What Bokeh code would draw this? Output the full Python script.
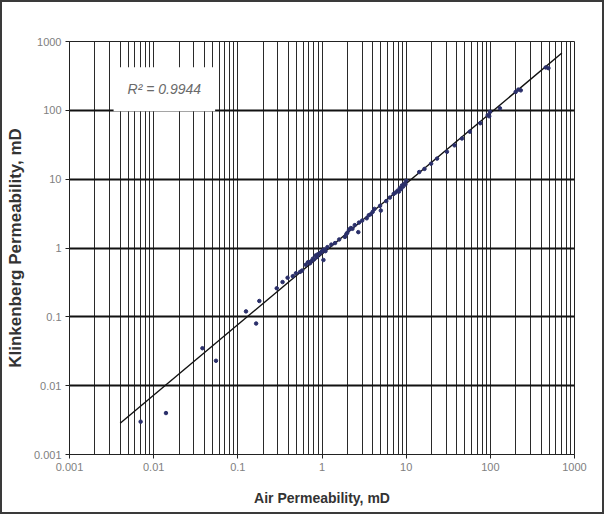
from bokeh.plotting import figure
from bokeh.models import FixedTicker, Label, Range1d
from bokeh.embed import file_html
from bokeh.resources import INLINE

# ---- data ----
air_perm = [0.007, 0.014, 0.038, 0.055, 0.125, 0.165, 0.18, 0.29, 0.34, 0.39,
            0.45, 0.49, 0.55, 0.58, 0.64, 0.68, 0.72, 0.74, 0.78, 0.8,
            0.84, 0.87, 0.89, 0.94, 0.97, 0.99, 1.02, 1.04, 1.06, 1.1,
            1.16, 1.29, 1.43, 1.6, 1.87, 1.95, 2.0, 2.1, 2.2, 2.3,
            2.45, 2.7, 2.75, 3.0, 3.4, 3.6, 3.8, 4.0, 4.2, 4.9,
            5.0, 5.8, 6.4, 7.1, 7.5, 7.9, 8.2, 8.4, 8.7, 8.9,
            9.2, 9.5, 9.8, 10, 14.3, 16.5, 19.8, 23.3, 30.5, 37.5,
            46, 57, 76, 93, 97, 99, 130, 200, 215, 230, 455, 490]
klink_perm = [0.003, 0.004, 0.035, 0.023, 0.12, 0.08, 0.17, 0.26, 0.32, 0.37,
              0.39, 0.43, 0.45, 0.47, 0.57, 0.62, 0.6, 0.64, 0.7, 0.68,
              0.78, 0.74, 0.81, 0.83, 0.86, 0.88, 0.92, 0.67, 0.95, 0.9,
              1.03, 1.12, 1.18, 1.33, 1.45, 1.6, 1.67, 1.86, 1.95, 1.9,
              2.15, 1.7, 2.34, 2.5, 2.7, 3.0, 3.1, 3.35, 3.7, 4.1,
              3.5, 4.8, 5.4, 6.1, 6.4, 6.8, 6.6, 7.4, 7.2, 8.1,
              7.8, 8.6, 8.4, 9.5, 12.7, 14.1, 16.8, 19.9, 25, 31,
              39, 49, 65, 85, 82, 95, 107, 185, 200, 195, 420, 410]

trend_x = [0.004, 708]
trend_y = [0.00285, 679]

decade_ticks = [0.001, 0.01, 0.1, 1, 10, 100, 1000]
tick_labels = ["0.001", "0.01", "0.1", "1", "10", "100", "1000"]
minor_mult = [2, 3, 4, 5, 6, 7, 8, 9]
r2_text = "R\u00b2 = 0.9944"
x_title = "Air Permeability, mD"
y_title = "Klinkenberg Permeability, mD"

minor_ticks = [d * m for d in decade_ticks[:-1] for m in minor_mult]

p = figure(width=604, height=514, x_axis_type="log", y_axis_type="log",
           x_range=Range1d(0.001, 1000), y_range=Range1d(0.001, 1000),
           output_backend="svg", toolbar_location=None,
           min_border_left=66, min_border_right=32,
           min_border_top=39, min_border_bottom=62)
p.styles = {"border": "2px solid #3a3a3a", "box-sizing": "border-box"}
p.background_fill_color = "white"
p.border_fill_color = "white"
p.outline_line_color = "#222222"
p.outline_line_width = 1

overrides = dict(zip(decade_ticks, tick_labels))
for ax in (p.xaxis[0], p.yaxis[0]):
    ax.ticker = FixedTicker(ticks=decade_ticks, minor_ticks=minor_ticks)
    ax.major_label_overrides = overrides
    ax.major_label_text_font = "Liberation Sans"
    ax.major_label_text_font_size = "11px"
    ax.major_label_text_color = "#808080"
    ax.axis_line_color = "#222222"
    ax.major_tick_line_color = "#222222"
    ax.major_tick_out = 4
    ax.major_tick_in = 0
    ax.minor_tick_out = 0
    ax.minor_tick_in = 0
    ax.major_label_standoff = 4
    ax.axis_label_text_font = "Liberation Sans"
    ax.axis_label_text_font_style = "bold"
    ax.axis_label_text_color = "#333333"

p.xaxis.axis_label = x_title
p.xaxis.axis_label_text_font_size = "14px"
p.xaxis.axis_label_standoff = 16
p.yaxis.axis_label = y_title
p.yaxis.axis_label_text_font_size = "17px"
p.yaxis.axis_label_standoff = 6

p.xgrid.grid_line_color = "#2a2a2a"
p.xgrid.grid_line_width = 1
p.xgrid.minor_grid_line_color = "#2a2a2a"
p.xgrid.minor_grid_line_width = 1
p.ygrid.grid_line_color = "#111111"
p.ygrid.grid_line_width = 1.8
p.ygrid.minor_grid_line_color = None

p.line(trend_x, trend_y, line_color="#111111", line_width=1.4)
p.scatter(air_perm, klink_perm, size=3.5, marker="circle",
          fill_color="#2a2f6a", line_color="#2a2f6a")

r2 = Label(x=0.0134, y=202, text=r2_text, text_align="center",
           text_baseline="middle", text_font="Liberation Sans",
           text_font_style="italic", text_font_size="14px",
           text_color="#6a6a6a", background_fill_color="white",
           padding=14)
p.add_layout(r2)

open("out.html", "w").write(file_html(p, INLINE))
